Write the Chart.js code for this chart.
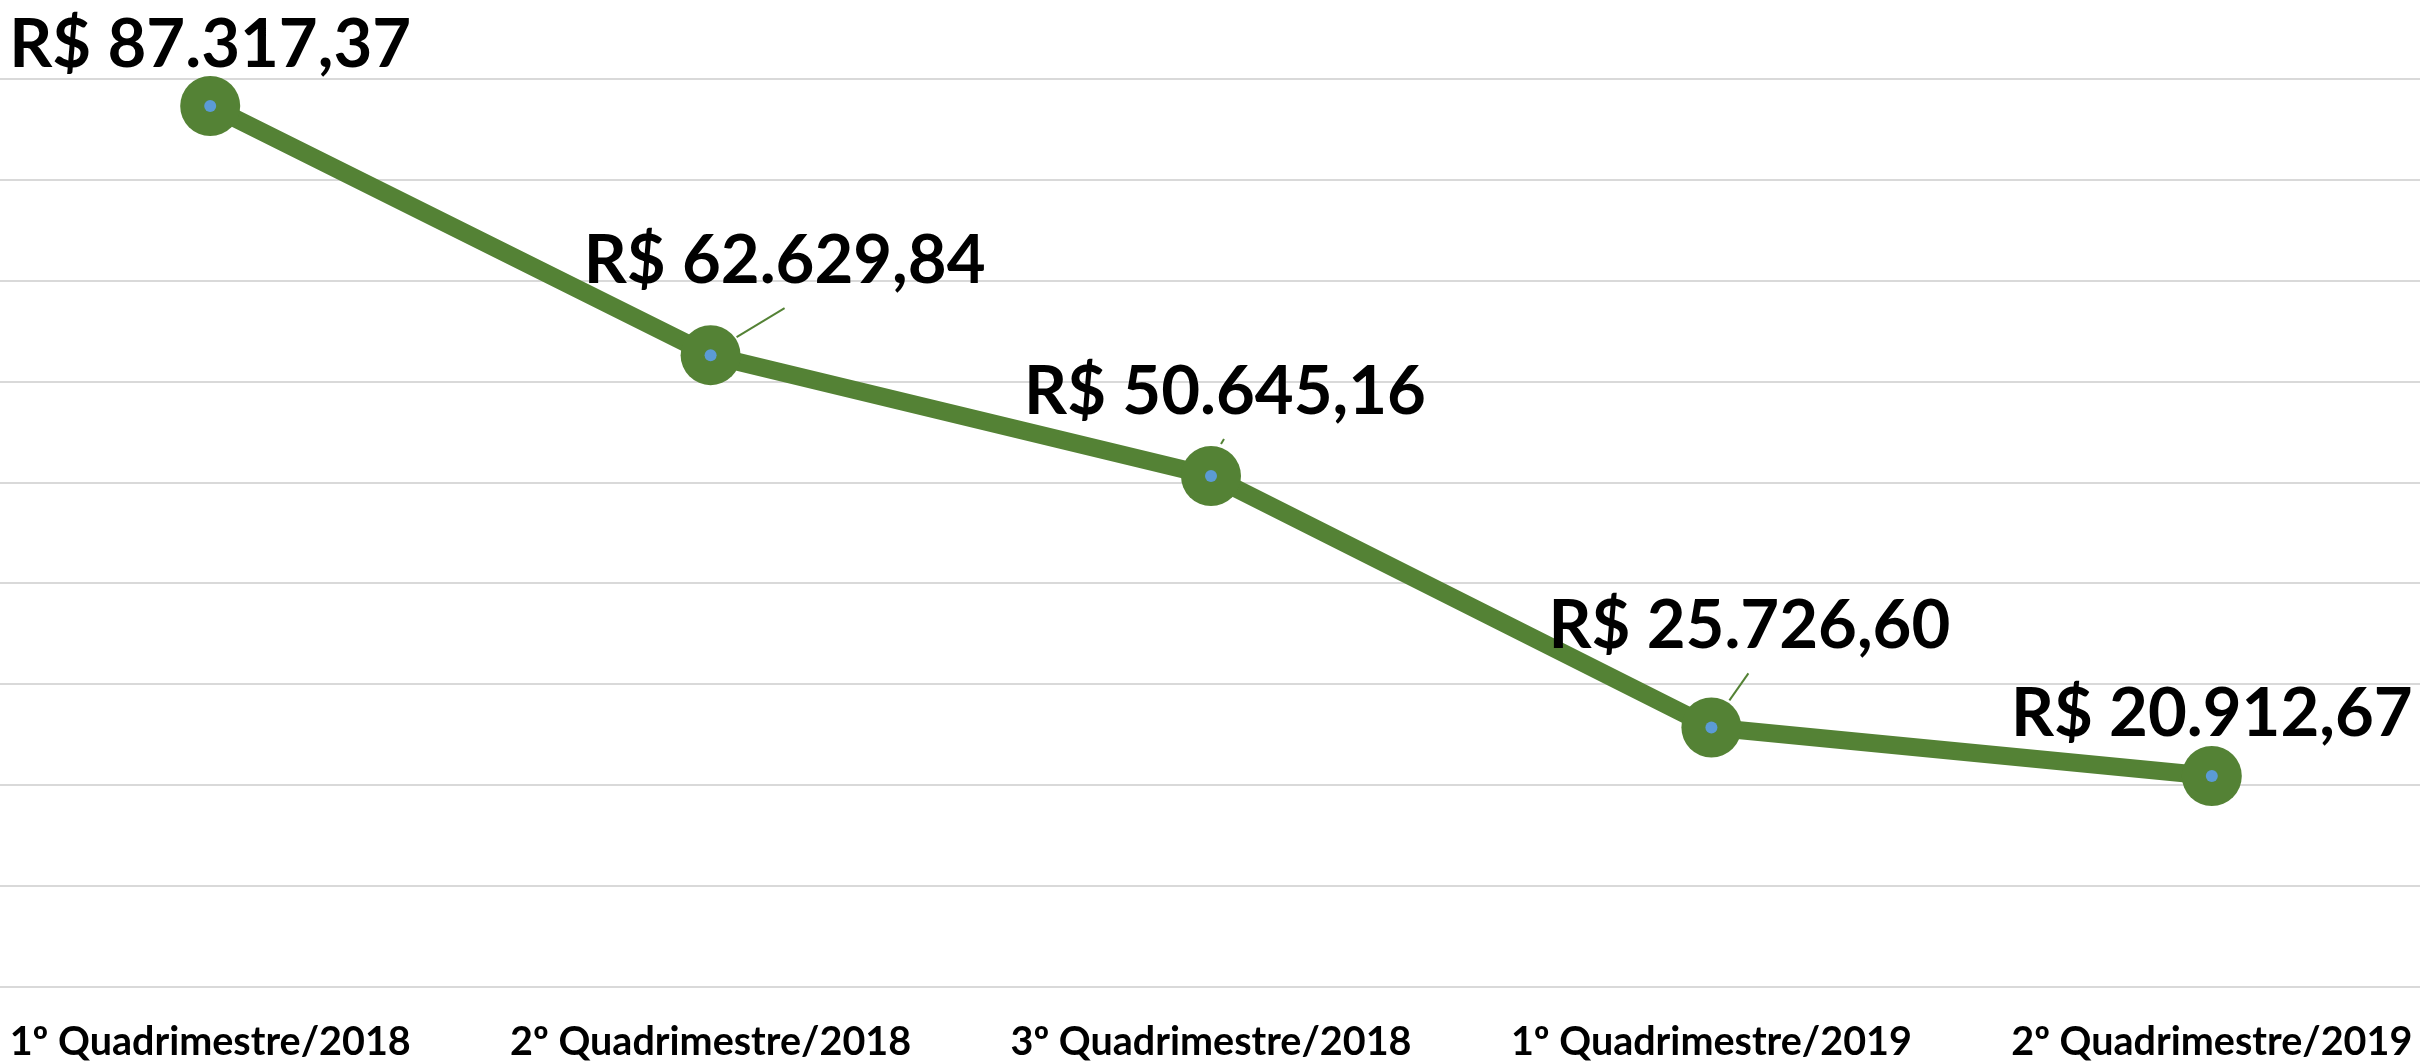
<!DOCTYPE html>
<html>
<head>
<meta charset="utf-8">
<script src="https://cdn.jsdelivr.net/npm/chart.js@4/dist/chart.umd.min.js"></script>
<style>
  html, body { margin: 0; padding: 0; background: #fff; overflow: hidden; }
  #wrap { position: absolute; left: -40px; top: 0; width: 2502px; height: 1063px; }
</style>
</head>
<body>
<div id="wrap"><canvas id="grafico" width="2502" height="1063"></canvas></div>
<script>
const periodos = ["1º Quadrimestre/2018", "2º Quadrimestre/2018", "3º Quadrimestre/2018", "1º Quadrimestre/2019", "2º Quadrimestre/2019"];
const valores = [87317.37, 62629.84, 50645.16, 25726.60, 20912.67];
const eixoMin = 0;
const eixoMax = 90000;
const eixoPasso = 10000;

// posicao dos rotulos em relacao ao ponto (dx, dy da linha de base)
const rotuloDesloc = [[0, -39], [74, -72], [14, -62], [38, -79], [0, -40]];
// linhas de chamada (inicio e fim em relacao ao ponto), null = sem linha
const chamadas = [null, [26, -18, 74, -47], [10, -32, 13, -37], [18, -27, 37, -54], null];

const verde = "#548235";
const azul = "#5B9BD5";

function formataReal(v) {
  let partes = v.toFixed(2).split(".");
  let inteiro = partes[0].replace(/\B(?=(\d{3})+(?!\d))/g, ".");
  return "R$ " + inteiro + "," + partes[1];
}

const rotulos = {
  id: "rotulos",
  afterDatasetsDraw(chart) {
    const ctx = chart.ctx;
    const meta = chart.getDatasetMeta(1);
    ctx.save();
    for (let i = 0; i < meta.data.length; i++) {
      const p = meta.data[i];
      const c = chamadas[i];
      if (c) {
        ctx.strokeStyle = verde;
        ctx.lineWidth = 2;
        ctx.beginPath();
        ctx.moveTo(p.x + c[0], p.y + c[1]);
        ctx.lineTo(p.x + c[2], p.y + c[3]);
        ctx.stroke();
      }
      ctx.fillStyle = "#000";
      ctx.font = "bold 67px Lato";
      ctx.textAlign = "center";
      ctx.textBaseline = "alphabetic";
      ctx.fillText(formataReal(valores[i]), p.x + rotuloDesloc[i][0], p.y + rotuloDesloc[i][1]);
    }
    ctx.restore();
  }
};

const ctx = document.getElementById("grafico").getContext("2d");
const grafico = new Chart(ctx, {
  type: "line",
  data: {
    labels: periodos,
    datasets: [
      {
        label: "centro",
        data: valores,
        showLine: false,
        pointRadius: 6,
        pointBackgroundColor: azul,
        pointBorderWidth: 0,
        order: 0,
        clip: false,
      },
      {
        label: "Valor",
        data: valores,
        borderColor: verde,
        borderWidth: 18,
        tension: 0,
        pointRadius: 30,
        pointBackgroundColor: verde,
        pointBorderWidth: 0,
        order: 1,
        clip: false,
      },
    ],
  },
  options: {
    responsive: false,
    animation: false,
    layout: { autoPadding: false, padding: { top: 79, left: 0, right: 0, bottom: 0 } },
    plugins: {
      legend: { display: false },
      tooltip: { enabled: false },
    },
    scales: {
      x: {
        offset: true,
        grid: { display: false },
        border: { display: false },
        ticks: {
          color: "#000",
          font: { family: "Lato", weight: "bold", size: 39.5 },
          padding: 24,
          maxRotation: 0,
          autoSkip: false,
        },
        afterFit: function (scale) {
          scale.height = 76;
          scale.paddingLeft = 0;
          scale.paddingRight = 0;
        },
      },
      y: {
        min: eixoMin,
        max: eixoMax,
        ticks: { display: false, stepSize: eixoPasso },
        grid: { color: "#d9d9d9", lineWidth: 2, drawTicks: false },
        border: { display: false },
        afterFit: function (scale) { scale.width = 0; },
      },
    },
  },
  plugins: [rotulos],
});
</script>
</body>
</html>
